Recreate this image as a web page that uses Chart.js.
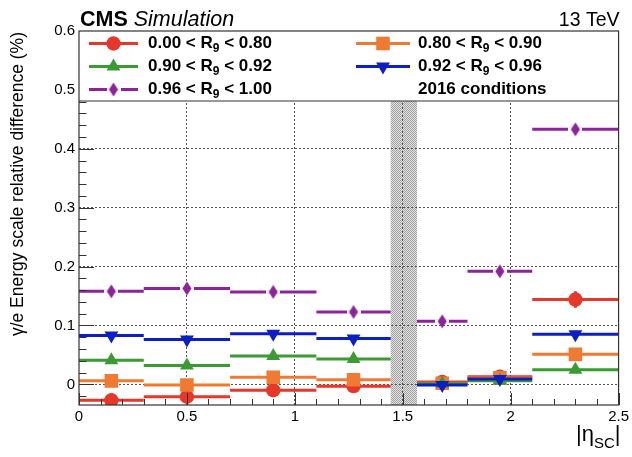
<!DOCTYPE html>
<html>
<head>
<meta charset="utf-8">
<script src="https://cdn.jsdelivr.net/npm/chart.js@4/dist/chart.umd.min.js"></script>
<style>
  html, body { margin: 0; padding: 0; background: #fff; }
  #wrap { width: 632px; height: 457px; position: relative; }
</style>
</head>
<body>
<div id="wrap"><canvas id="c"></canvas></div>
<script>
// |eta_SC| bins (the ECAL barrel/endcap transition region is left out)
const binLow    = [0.0, 0.3, 0.7, 1.1, 1.566, 1.8, 2.1];
const binHigh   = [0.3, 0.7, 1.1, 1.4442, 1.8, 2.1, 2.5];
const binCenter = [0.15, 0.5, 0.9, 1.272, 1.683, 1.95, 2.3];
const crackRange = [1.4442, 1.566];

// gamma/e energy scale relative difference (%), one array per R9 category
const r9_000_080 = [-0.027, -0.021, -0.010, -0.003, 0.004, 0.013, 0.144];
const r9_080_090 = [0.006, -0.001, 0.012, 0.008, 0.002, 0.011, 0.051];
const r9_090_092 = [0.041, 0.032, 0.048, 0.043, 0.001, 0.006, 0.025];
const r9_092_096 = [0.083, 0.076, 0.086, 0.078, -0.001, 0.009, 0.085];
const r9_096_100 = [0.158, 0.163, 0.157, 0.123, 0.107, 0.192, 0.433];
const r9_000_080_err = [0, 0, 0, 0, 0, 0, 0.014];

// axis tick labels
const xTickValues = [0, 0.5, 1, 1.5, 2, 2.5];
const yTickValues = [0, 0.1, 0.2, 0.3, 0.4, 0.5, 0.6];

// legend texts: [before subscript, subscript, after subscript]
const legendLabels = [
  ['0.00 < R', '9', ' < 0.80'],
  ['0.80 < R', '9', ' < 0.90'],
  ['0.90 < R', '9', ' < 0.92'],
  ['0.92 < R', '9', ' < 0.96'],
  ['0.96 < R', '9', ' < 1.00']
];
const legendNote = '2016 conditions';

const colors = ['#e6372b', '#ee7a33', '#3b9a33', '#0b1fc2', '#8b2597'];

// narrow ROOT-style diamond marker, with a white gap box so the bin line stops short of it
function diamondMarker(color) {
  const cv = document.createElement('canvas');
  cv.width = 14; cv.height = 15;
  const g = cv.getContext('2d');
  g.fillStyle = '#ffffff';
  g.fillRect(0, 5.5, 14, 4);
  g.fillStyle = color;
  g.beginPath();
  g.moveTo(7, 0.5); g.lineTo(11.5, 7.5); g.lineTo(7, 14.5); g.lineTo(2.5, 7.5);
  g.closePath(); g.fill();
  return cv;
}

const markers = [
  { pointStyle: 'circle', radius: 7.2, rotation: 0 },
  { pointStyle: 'rect', radius: 9.6, rotation: 0 },
  { pointStyle: 'triangle', radius: 8, rotation: 0 },
  { pointStyle: 'triangle', radius: 8, rotation: 180 },
  { pointStyle: diamondMarker(colors[4]), radius: 7, rotation: 0 }
];

// horizontal bin segments plus optional vertical error bars
function seriesPoints(vals, errs) {
  const pts = [];
  vals.forEach((v, i) => {
    pts.push({ x: binLow[i], y: v }, { x: binCenter[i], y: v, mark: true }, { x: binHigh[i], y: v }, { x: binHigh[i], y: null });
    if (errs && errs[i] > 0) {
      pts.push({ x: binCenter[i], y: v - errs[i] }, { x: binCenter[i], y: v + errs[i] }, { x: binCenter[i], y: null });
    }
  });
  return pts;
}

const seriesValues = [r9_000_080, r9_080_090, r9_090_092, r9_092_096, r9_096_100];
const datasets = seriesValues.map((vals, k) => ({
  label: legendLabels[k].join(''),
  data: seriesPoints(vals, k === 0 ? r9_000_080_err : null),
  borderColor: colors[k],
  backgroundColor: colors[k],
  borderWidth: 3,
  borderCapStyle: 'butt',
  tension: 0,
  spanGaps: false,
  fill: false,
  order: 5 - k,
  pointStyle: markers[k].pointStyle,
  pointRotation: markers[k].rotation,
  pointRadius: ctx => (ctx.raw && ctx.raw.mark ? markers[k].radius : 0),
  pointHoverRadius: ctx => (ctx.raw && ctx.raw.mark ? markers[k].radius : 0),
  pointBorderWidth: 0,
  pointBackgroundColor: colors[k]
}));

const FONT = '"Liberation Sans", Arial, Helvetica, sans-serif';

// stippled grey band over the barrel/endcap transition
function stipple(ctx) {
  const p = document.createElement('canvas');
  p.width = 2; p.height = 2;
  const g = p.getContext('2d');
  g.fillStyle = '#dedede'; g.fillRect(0, 0, 2, 2);
  g.fillStyle = '#a6a6a6'; g.fillRect(0, 0, 1, 1); g.fillRect(1, 1, 1, 1);
  return ctx.createPattern(p, 'repeat');
}

const decorations = {
  id: 'decorations',
  beforeDraw(chart) {
    const { ctx, chartArea: a, scales: { x } } = chart;
    ctx.save();
    ctx.fillStyle = '#ffffff';
    ctx.fillRect(0, 0, chart.width, chart.height);
    const x0 = x.getPixelForValue(crackRange[0]);
    const x1 = x.getPixelForValue(crackRange[1]);
    ctx.fillStyle = stipple(ctx);
    ctx.fillRect(x0, a.top, x1 - x0, a.bottom - a.top);
    ctx.restore();
  },
  afterDatasetsDraw(chart) {
    const { ctx, chartArea: a, scales: { x, y } } = chart;
    ctx.save();
    // inward tick marks
    ctx.strokeStyle = '#333';
    ctx.lineWidth = 1;
    ctx.beginPath();
    for (let i = -2; i <= 30; i++) {
      const v = i / 50;
      if (v < y.min || v > y.max) continue;
      const py = Math.round(y.getPixelForValue(v)) + 0.5;
      const len = i % 5 === 0 ? 15 : 7.5;
      ctx.moveTo(a.left, py); ctx.lineTo(a.left + len, py);
    }
    for (let i = 0; i <= 25; i++) {
      const v = i / 10;
      const px = Math.round(x.getPixelForValue(v)) + 0.5;
      const len = i % 5 === 0 ? 12 : 6;
      ctx.moveTo(px, a.bottom); ctx.lineTo(px, a.bottom - len);
    }
    ctx.stroke();

    // legend box
    const lb = a.top + 70;
    ctx.fillStyle = '#ffffff';
    ctx.fillRect(a.left, a.top, a.right - a.left, lb - a.top);
    ctx.strokeStyle = '#333';
    ctx.lineWidth = 1.2;
    ctx.beginPath(); ctx.moveTo(a.left, lb); ctx.lineTo(a.right, lb); ctx.stroke();

    const cols = [{ l0: 89, l1: 138, tx: 148 }, { l0: 356, l1: 410, tx: 418 }];
    const rows = [43.5, 66.5, 89.5];
    const slots = [[0, 0], [1, 0], [0, 1], [1, 1], [0, 2]];
    slots.forEach(([c, r], k) => {
      const col = cols[c], yy = rows[r];
      ctx.strokeStyle = colors[k];
      ctx.lineWidth = 3;
      ctx.beginPath(); ctx.moveTo(col.l0, yy); ctx.lineTo(col.l1, yy); ctx.stroke();
      ctx.fillStyle = colors[k];
      Chart.helpers.drawPoint(ctx, { pointStyle: markers[k].pointStyle, radius: markers[k].radius, rotation: markers[k].rotation, borderWidth: 0 }, (col.l0 + col.l1) / 2, yy);
      drawSub(ctx, legendLabels[k], col.tx, yy, 'bold 17px ' + FONT, 'bold 12px ' + FONT, '#000');
    });
    ctx.fillStyle = '#000';
    ctx.font = 'bold 17px ' + FONT;
    ctx.textBaseline = 'middle';
    ctx.textAlign = 'left';
    ctx.fillText(legendNote, cols[1].tx, rows[2]);

    // frame
    ctx.strokeStyle = '#333';
    ctx.lineWidth = 1.2;
    ctx.strokeRect(a.left, a.top, a.right - a.left, a.bottom - a.top);
    ctx.restore();
  },
  afterDraw(chart) {
    const { ctx, chartArea: a } = chart;
    ctx.save();
    ctx.fillStyle = '#000';
    ctx.textBaseline = 'alphabetic';
    ctx.textAlign = 'left';
    ctx.font = 'bold 21.5px ' + FONT;
    ctx.fillText('CMS', a.left + 1, 26);
    const w = ctx.measureText('CMS ').width;
    ctx.font = 'italic 21.5px ' + FONT;
    ctx.fillText('Simulation', a.left + 1 + w, 26);
    ctx.font = '19.5px ' + FONT;
    ctx.textAlign = 'right';
    ctx.fillText('13 TeV', a.right + 1, 26);

    // y axis title, aligned to the top of the axis
    ctx.save();
    ctx.translate(18, a.top + 1);
    ctx.rotate(-Math.PI / 2);
    ctx.font = '17.5px ' + FONT;
    ctx.textAlign = 'right';
    ctx.textBaseline = 'middle';
    ctx.fillText('\u03b3/e Energy scale relative difference (%)', 0, 0);
    ctx.restore();

    // x axis title |eta_SC|
    ctx.textAlign = 'left';
    ctx.textBaseline = 'alphabetic';
    const big = '|\u03b7', sub = 'SC', end = '|';
    const bigFont = '22px ' + FONT, subFont = '15px ' + FONT;
    ctx.font = bigFont; const wb = ctx.measureText(big).width;
    ctx.font = subFont; const ws = ctx.measureText(sub).width;
    ctx.font = bigFont; const we = ctx.measureText(end).width;
    let xx = a.right + 2 - (wb + ws + we);
    const base = 441;
    ctx.font = bigFont; ctx.fillText(big, xx, base); xx += wb;
    ctx.font = subFont; ctx.fillText(sub, xx, base + 7); xx += ws;
    ctx.font = bigFont; ctx.fillText(end, xx, base);
    ctx.restore();
  }
};

function drawSub(ctx, parts, x, y, font, subFont, color) {
  ctx.fillStyle = color;
  ctx.textBaseline = 'middle';
  ctx.textAlign = 'left';
  ctx.font = font;
  ctx.fillText(parts[0], x, y);
  let xx = x + ctx.measureText(parts[0]).width;
  ctx.font = subFont;
  ctx.fillText(parts[1], xx, y + 5);
  xx += ctx.measureText(parts[1]).width;
  ctx.font = font;
  ctx.fillText(parts[2], xx, y);
}

const gridColor = (edgeValues) => (ctx) => {
  const v = ctx.tick ? ctx.tick.value : null;
  if (v === null || edgeValues.includes(v)) return 'rgba(0,0,0,0)';
  return '#555';
};

new Chart(document.getElementById('c'), {
  type: 'line',
  data: { datasets },
  plugins: [decorations],
  options: {
    responsive: true,
    maintainAspectRatio: false,
    devicePixelRatio: 1,
    animation: false,
    events: [],
    layout: { padding: { top: 31, right: 9, left: 0, bottom: 0 } },
    plugins: { legend: { display: false }, tooltip: { enabled: false } },
    scales: {
      x: {
        type: 'linear',
        min: 0,
        max: 2.5,
        afterBuildTicks: s => { s.ticks = xTickValues.map(v => ({ value: v })); },
        afterFit: s => { s.height = 52; },
        ticks: { color: '#000', font: { family: FONT, size: 15 }, padding: 3, maxRotation: 0, autoSkip: false, callback: v => String(v) },
        grid: { color: gridColor([0, 2.5]), lineWidth: 1, drawTicks: false },
        border: { display: false, dash: [2, 2] }
      },
      y: {
        type: 'linear',
        min: -0.035,
        max: 0.6,
        afterBuildTicks: s => { s.ticks = yTickValues.map(v => ({ value: v })); },
        afterFit: s => { s.width = 79; },
        ticks: { color: '#000', font: { family: FONT, size: 15 }, padding: 4, autoSkip: false, callback: v => String(v) },
        grid: { color: gridColor([0.6]), lineWidth: 1, drawTicks: false },
        border: { display: false, dash: [2, 2] }
      }
    }
  }
});
</script>
</body>
</html>
